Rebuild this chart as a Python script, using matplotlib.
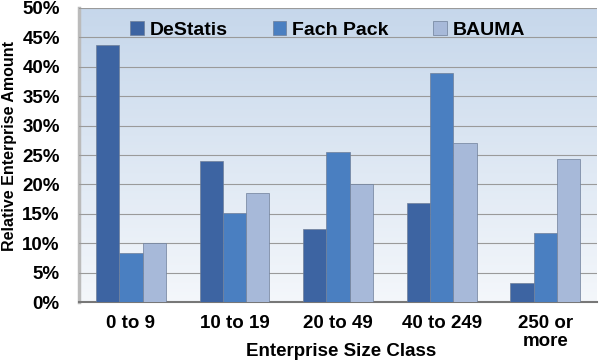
import numpy as np
import matplotlib
matplotlib.use("Agg")
import matplotlib.pyplot as plt
from matplotlib.colors import LinearSegmentedColormap

plt.rcParams['font.family'] = ['Liberation Sans', 'DejaVu Sans']
plt.rcParams['font.weight'] = 'bold'
plt.rcParams['axes.labelweight'] = 'bold'

categories = ["0 to 9", "10 to 19", "20 to 49", "40 to 249", "250 or\nmore"]
series_names = ["DeStatis", "Fach Pack", "BAUMA"]
destatis = [43.7, 23.9, 12.5, 16.8, 3.2]
fachpack = [8.4, 15.2, 25.5, 38.9, 11.8]
bauma = [10.0, 18.5, 20.0, 27.0, 24.3]
colors = ["#3d64a2", "#4a7fc1", "#a7b9d9"]

fig = plt.figure(figsize=(6, 3.63), dpi=100)
ax = fig.add_axes([0.132, 0.168, 0.863, 0.81])

# gradient plot background
grad = LinearSegmentedColormap.from_list("bg", ["#f4f7fb", "#c6d7eb"])
ax.imshow(np.linspace(0, 1, 256).reshape(-1, 1), cmap=grad, aspect="auto",
          extent=(-0.5, 4.5, 0, 50), origin="lower", zorder=0)

x = np.arange(len(categories))
w = 0.225
for i, (vals, name) in enumerate(zip([destatis, fachpack, bauma], series_names)):
    ax.bar(x + (i - 1) * w, vals, w, color=colors[i], edgecolor="#6f7f99",
           linewidth=0.5, label=name, zorder=3)

ax.set_xlim(-0.5, 4.5)
ax.set_ylim(0, 50)
ax.set_yticks(range(0, 51, 5))
ax.set_yticklabels([f"{v}%" for v in range(0, 51, 5)], fontsize=13.5)
ax.set_xticks(x)
ax.set_xticklabels(categories, fontsize=13.5, linespacing=1.1)
ax.yaxis.grid(True, color="#9a9a9a", linewidth=0.8, zorder=1)
ax.set_axisbelow(False)
for s in ["top", "right"]:
    ax.spines[s].set_visible(False)
ax.spines["left"].set_color("#bbbbbb")
ax.spines["left"].set_linewidth(2.5)
ax.spines["bottom"].set_color("#777777")
ax.spines["bottom"].set_linewidth(1.5)
ax.tick_params(axis="y", length=0, pad=14)
ax.tick_params(axis="x", length=0, pad=9)

fig.text(341 / 600, 1 - 351 / 363, "Enterprise Size Class", fontsize=13.5,
         ha="center", va="center")
fig.text(10 / 600, 1 - 146 / 363, "Relative Enterprise Amount", fontsize=11.5,
         rotation=90, ha="center", va="center")

ax.legend(loc="upper center", ncol=3, frameon=False, fontsize=14,
          handlelength=0.7, handleheight=0.7, handletextpad=0.3,
          columnspacing=2.3, bbox_to_anchor=(0.48, 1.015))

fig.savefig("out.png", dpi=100)
